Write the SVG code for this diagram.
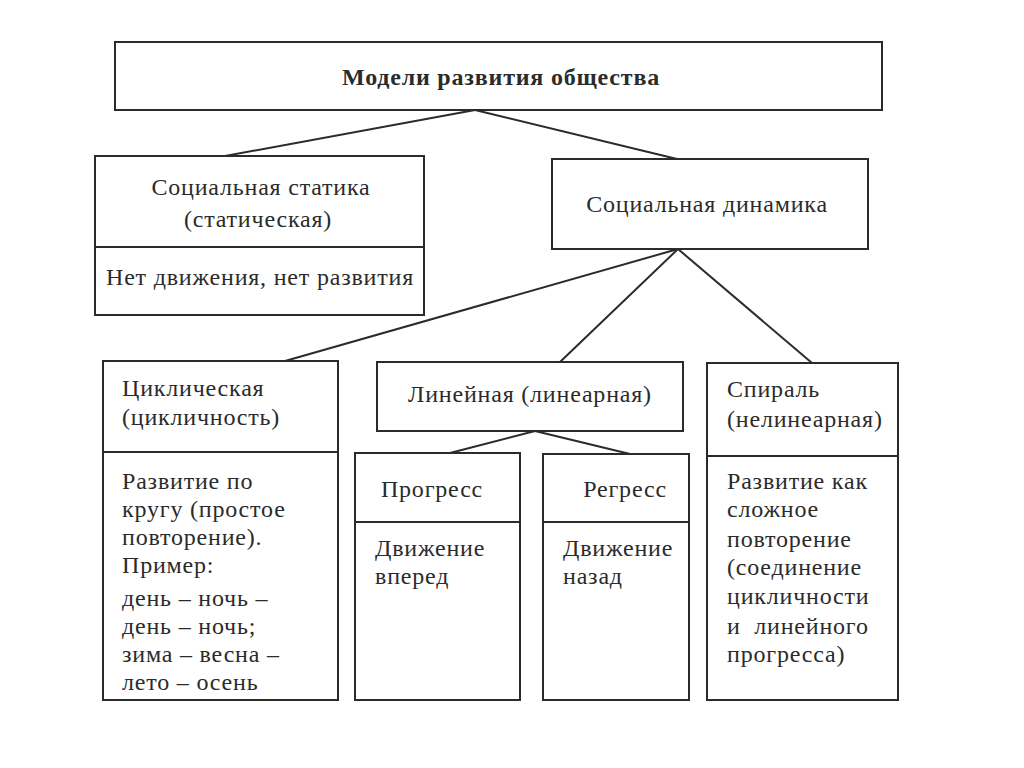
<svg xmlns="http://www.w3.org/2000/svg" width="1024" height="768" viewBox="0 0 1024 768">
<style>
.box{fill:none;stroke:#2b2b2b;stroke-width:2}
.ln{stroke:#2b2b2b;stroke-width:2;fill:none}
text{font-family:"Liberation Serif","Times New Roman",serif;font-size:24px;letter-spacing:0.8px;fill:#2b2b2b}
.c{text-anchor:middle}
.b{font-weight:bold}
</style>
<rect width="1024" height="768" fill="#ffffff"/>
<g id="connectors">
<line class="ln" x1="475" y1="110" x2="225" y2="156"/>
<line class="ln" x1="475" y1="110" x2="677" y2="159"/>
<line class="ln" x1="678" y1="249" x2="285" y2="361"/>
<line class="ln" x1="678" y1="249" x2="560" y2="362"/>
<line class="ln" x1="678" y1="249" x2="812" y2="363"/>
<line class="ln" x1="535" y1="431" x2="450" y2="453"/>
<line class="ln" x1="535" y1="431" x2="630" y2="454"/>
</g>
<g id="title">
<rect class="box" x="115" y="42" width="767" height="68"/>
<text class="c b" x="501" y="85">Модели развития общества</text>
</g>
<g id="statika">
<rect class="box" x="95" y="156" width="329" height="159"/>
<line class="ln" x1="95" y1="247" x2="424" y2="247"/>
<text class="c" x="261" y="195">Социальная статика</text>
<text class="c" x="258" y="227">(статическая)</text>
<text class="c" x="260" y="285">Нет движения, нет развития</text>
</g>
<g id="dinamika">
<rect class="box" x="552" y="159" width="316" height="90"/>
<text class="c" x="707" y="212">Социальная динамика</text>
</g>
<g id="cyclic">
<rect class="box" x="103" y="361" width="235" height="339"/>
<line class="ln" x1="103" y1="452" x2="338" y2="452"/>
<text x="122" y="396">Циклическая</text>
<text x="122" y="425">(цикличность)</text>
<text x="122" y="489">Развитие по</text>
<text x="122" y="517">кругу (простое</text>
<text x="122" y="545">повторение).</text>
<text x="122" y="573">Пример:</text>
<text x="122" y="606">день – ночь –</text>
<text x="122" y="634">день – ночь;</text>
<text x="122" y="662">зима – весна –</text>
<text x="122" y="690">лето – осень</text>
</g>
<g id="linear">
<rect class="box" x="377" y="362" width="306" height="69"/>
<text class="c" x="530" y="402">Линейная (линеарная)</text>
</g>
<g id="progress">
<rect class="box" x="355" y="453" width="165" height="247"/>
<line class="ln" x1="355" y1="522" x2="520" y2="522"/>
<text class="c" x="432" y="497">Прогресс</text>
<text x="375" y="556">Движение</text>
<text x="375" y="584">вперед</text>
</g>
<g id="regress">
<rect class="box" x="543" y="454" width="146" height="246"/>
<line class="ln" x1="543" y1="522" x2="689" y2="522"/>
<text class="c" x="625" y="497">Регресс</text>
<text x="563" y="556">Движение</text>
<text x="563" y="584">назад</text>
</g>
<g id="spiral">
<rect class="box" x="707" y="363" width="191" height="337"/>
<line class="ln" x1="707" y1="456" x2="898" y2="456"/>
<text x="727" y="397">Спираль</text>
<text x="727" y="427">(нелинеарная)</text>
<text x="727" y="489">Развитие как</text>
<text x="727" y="517">сложное</text>
<text x="727" y="547">повторение</text>
<text x="727" y="575">(соединение</text>
<text x="727" y="604">цикличности</text>
<text x="727" y="634" xml:space="preserve">и  линейного</text>
<text x="727" y="662">прогресса)</text>
</g>
</svg>
